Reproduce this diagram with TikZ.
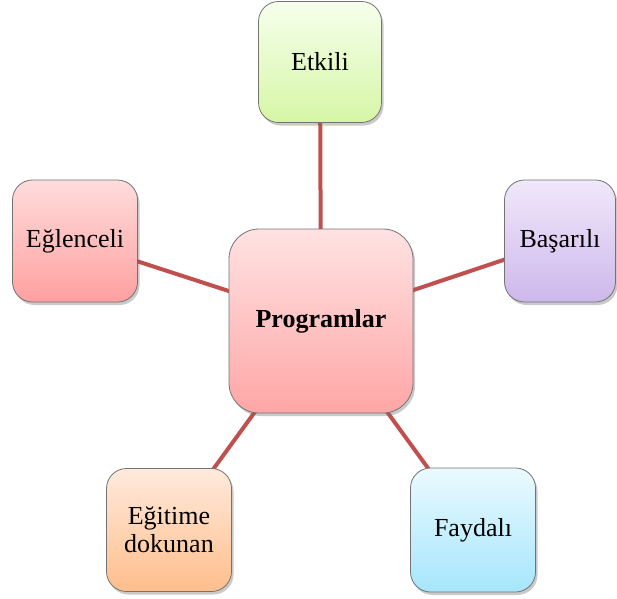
\documentclass[tikz,border=0pt]{standalone}
\usepackage{fontspec}
\setmainfont{Liberation Serif}
\usetikzlibrary{shadows,backgrounds}
\definecolor{linkred}{HTML}{C0504D}
\tikzset{
  box/.style={draw=black!55, line width=0.8pt, rounded corners=20pt, align=center,
    inner sep=0pt, font=\fontsize{26}{28}\selectfont,
    drop shadow={shadow xshift=2pt, shadow yshift=-3pt, opacity=0.35, fill=black!60}},
  link/.style={draw=linkred, line width=4pt}
}
\begin{document}
\begin{tikzpicture}[x=1pt,y=-1pt]
\useasboundingbox (0,0) rectangle (617,598);
\node[box, rounded corners=30pt, minimum width=184pt, minimum height=184pt,
  top color={rgb,255:red,255;green,226;blue,226}, bottom color={rgb,255:red,255;green,166;blue,166},
  font=\fontsize{26}{28}\selectfont\bfseries] (c) at (321,321) {Programlar};
\node[box, minimum width=123pt, minimum height=121pt,
  top color={rgb,255:red,246;green,255;blue,236}, bottom color={rgb,255:red,214;green,246;blue,166}] (e) at (320,62) {Etkili};
\node[box, minimum width=111pt, minimum height=122pt,
  top color={rgb,255:red,240;green,232;blue,250}, bottom color={rgb,255:red,206;green,184;blue,236}] (b) at (560,241) {Başarılı};
\node[box, minimum width=125pt, minimum height=122pt,
  top color={rgb,255:red,255;green,220;blue,220}, bottom color={rgb,255:red,255;green,160;blue,160}] (g) at (75,241) {Eğlenceli};
\node[box, minimum width=125pt, minimum height=123pt,
  top color={rgb,255:red,255;green,234;blue,220}, bottom color={rgb,255:red,255;green,190;blue,140}] (d) at (169,530) {Eğitime\\dokunan};
\node[box, minimum width=125pt, minimum height=124pt,
  top color={rgb,255:red,234;green,250;blue,255}, bottom color={rgb,255:red,166;green,230;blue,252}] (f) at (473,530) {Faydalı};
\begin{pgfonlayer}{background}
\draw[link] (c.center) -- (e.center);
\draw[link] (c.center) -- (b.center);
\draw[link] (c.center) -- (g.center);
\draw[link] (c.center) -- (d.center);
\draw[link] (c.center) -- (f.center);
\end{pgfonlayer}
\end{tikzpicture}
\end{document}
